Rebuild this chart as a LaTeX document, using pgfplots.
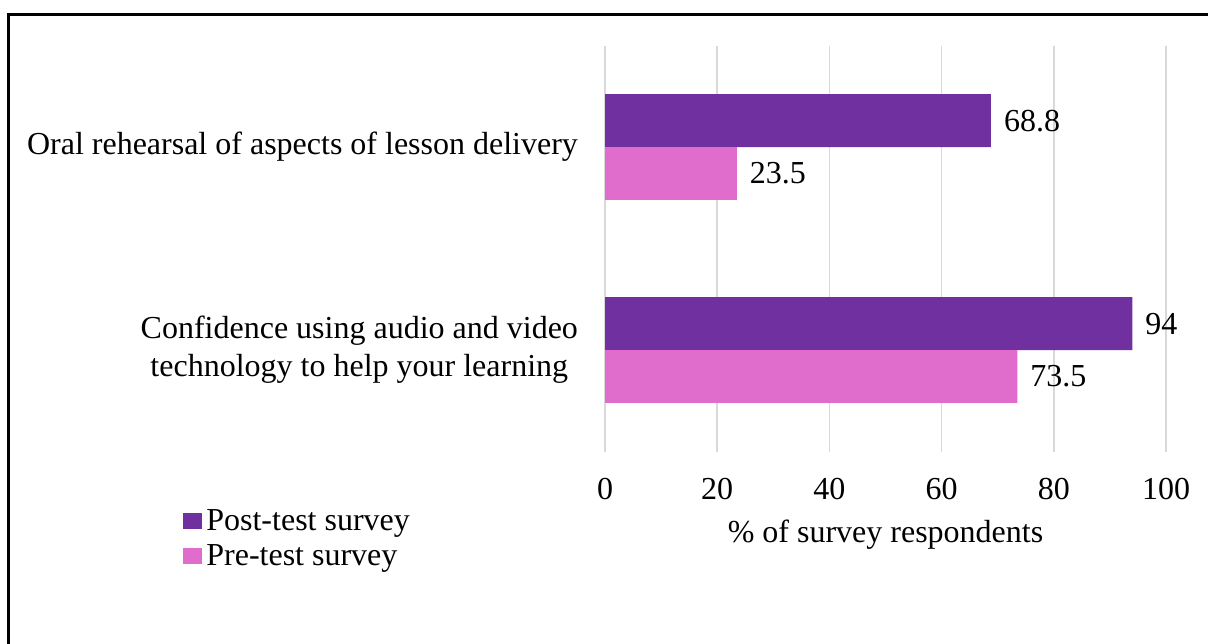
\documentclass[border=0pt]{standalone}
\usepackage{fontspec}
\setmainfont{Liberation Serif}
\usepackage{pgfplots}
\pgfplotsset{compat=1.18}
\definecolor{post}{HTML}{7030A0}
\definecolor{pre}{HTML}{E06CCB}
\definecolor{gridc}{HTML}{D9D9D9}
\begin{document}
\begin{tikzpicture}
\useasboundingbox (0pt,0pt) rectangle (604pt,-321.5pt);
\draw[line width=1.1pt] (4.25pt,-350pt) -- (4.25pt,-7.25pt) -- (630pt,-7.25pt);
\begin{axis}[
  at={(302.5pt,-225.75pt)}, anchor=south west,
  scale only axis, width=280.5pt, height=203pt,
  font=\fontsize{16}{19}\selectfont,
  /pgf/number format/assume math mode=true,
  xbar, xmin=0, xmax=100, ymin=-0.5, ymax=1.5,
  xtick={0,20,...,100}, ytick={0,1},
  yticklabels={{Confidence using audio and video\\technology to help your learning},{Oral rehearsal of aspects of lesson delivery}},
  yticklabel style={align=center, font=\fontsize{16}{19}\selectfont, xshift=-10pt},
  xticklabel style={yshift=-10pt},
  xlabel style={yshift=-3pt},
  xmajorgrids, grid style={gridc, line width=0.75pt},
  axis line style={draw=none}, major tick length=0pt,
  bar width=0.26,
  nodes near coords,
  nodes near coords style={font=\fontsize{16}{19}\selectfont, anchor=west, xshift=3pt},
  xlabel={\% of survey respondents},
  legend style={at={(-0.763,-0.122)}, anchor=north west, draw=none, fill=none, font=\fontsize{16}{19}\selectfont, cells={anchor=west}, row sep=1.5pt},
  legend image code/.code={\fill[#1] (-0.5pt,-4pt) rectangle (9pt,4pt);},
]
\addplot[fill=post, draw=none, bar shift=0.13] coordinates {(94,0) (68.8,1)};
\addplot[fill=pre, draw=none, bar shift=-0.13] coordinates {(73.5,0) (23.5,1)};
\legend{Post-test survey, Pre-test survey}
\end{axis}
\end{tikzpicture}
\end{document}
